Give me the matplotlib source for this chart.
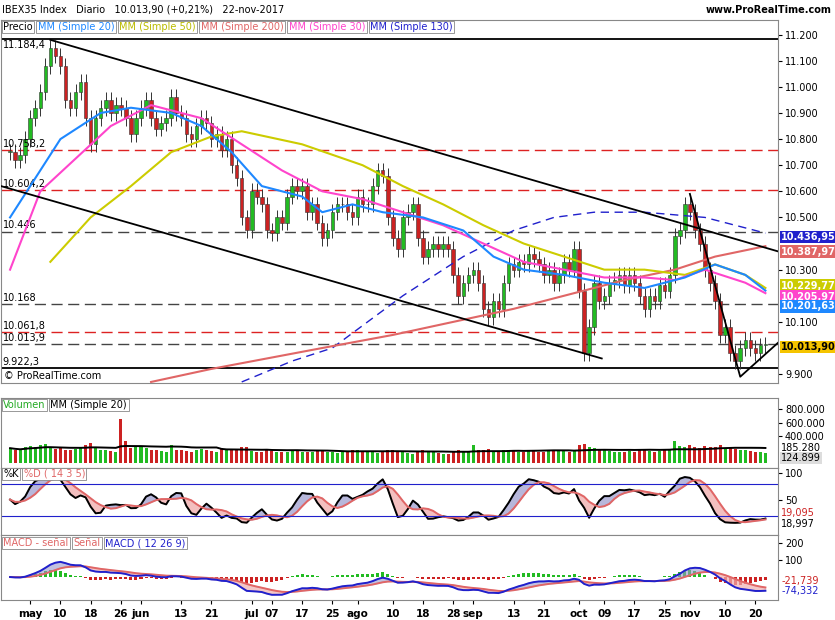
import numpy as np, pandas as pd
import matplotlib
matplotlib.use("Agg")
import matplotlib.pyplot as plt
from matplotlib.patches import Rectangle

closes = [10.75,10.72,10.74,
 10.80,10.88,10.92,10.98,11.08,11.15,11.12,11.08,10.95,10.92,10.98,11.02,10.88,10.78,10.88,10.92,10.95,10.90,10.93,10.92,10.88,10.82,10.88,
 10.92,10.95,10.88,10.84,10.86,10.88,10.96,10.90,10.88,10.82,10.80,10.85,10.88,10.86,10.80,10.82,10.76,10.80,10.70,10.65,10.50,10.45,
 10.60,10.58,10.55,10.45,10.44,10.50,10.48,10.58,10.62,10.60,10.62,10.52,10.55,10.48,10.42,10.45,10.52,10.55,10.55,10.52,10.50,
 10.58,10.55,10.55,10.62,10.68,10.66,10.50,10.42,10.38,10.50,10.52,10.55,10.42,10.35,10.38,10.40,10.38,10.40,10.38,10.28,10.20,10.25,10.28,
 10.30,10.25,10.15,10.12,10.18,10.15,10.25,10.32,10.30,10.33,10.32,10.36,10.34,10.32,10.28,10.30,10.25,10.28,10.33,10.30,10.38,
 10.22,9.98,10.08,10.25,10.18,10.20,10.25,10.26,10.28,10.24,10.28,10.25,10.20,10.15,10.20,10.18,10.24,10.22,10.28,10.43,10.45,10.55,
 10.52,10.45,10.40,10.30,10.25,10.18,10.05,10.08,9.98,9.95,10.00,10.03,10.00,9.98,10.01,10.0139]
volumes = [220,200,190,
 230,250,240,260,280,240,210,220,200,190,210,230,260,300,240,200,190,180,170,650,330,220,250,
 240,220,200,190,180,170,260,200,190,180,170,200,210,190,180,170,220,190,200,210,240,230,
 180,160,170,190,180,170,160,170,180,200,170,160,170,180,190,170,160,150,170,180,190,
 200,180,170,160,150,170,200,190,180,170,150,140,160,190,170,160,150,140,130,170,200,180,170,
 270,200,190,210,180,170,190,200,180,170,160,180,190,170,160,180,200,190,180,170,200,
 260,280,240,220,200,190,180,170,160,170,180,170,190,200,180,170,180,190,210,330,250,240,
 260,240,220,250,230,240,270,220,230,210,200,190,180,170,160,150]
dates = pd.bdate_range("2017-04-26","2017-11-22")
n = len(closes)
x = np.arange(n)
c = np.array(closes)
o = np.r_[c[0], c[:-1]]
wick = 0.03

ma20 = [(0,10.50),(5,10.65),(10,10.80),(18,10.90),(24,10.92),(32,10.90),(38,10.85),(44,10.75),(50,10.62),(58,10.58),(62,10.52),(68,10.55),(74,10.52),(82,10.50),(90,10.45),(96,10.35),(102,10.30),(110,10.28),(118,10.25),(126,10.23),(134,10.27),(140,10.32),(146,10.28),(150,10.22)]
ma30 = [(0,10.30),(6,10.60),(20,10.85),(28,10.93),(38,10.88),(46,10.78),(54,10.68),(62,10.60),(70,10.57),(78,10.52),(86,10.47),(94,10.40),(102,10.33),(110,10.30),(118,10.27),(126,10.27),(132,10.26),(138,10.30),(146,10.25),(150,10.21)]
ma50 = [(8,10.33),(16,10.50),(24,10.62),(32,10.75),(40,10.81),(46,10.83),(58,10.78),(70,10.70),(78,10.62),(86,10.55),(94,10.47),(102,10.40),(110,10.35),(118,10.30),(126,10.30),(134,10.28),(140,10.32),(146,10.28),(150,10.23)]
ma200 = [(28,9.87),(40,9.92),(62,10.00),(76,10.05),(88,10.10),(100,10.15),(110,10.20),(122,10.26),(132,10.30),(140,10.35),(150,10.39)]
ma130 = [(46,9.87),(56,9.95),(64,10.00),(78,10.20),(90,10.35),(100,10.45),(108,10.50),(116,10.52),(126,10.52),(138,10.50),(150,10.44)]
price_ticks = [9.9, 10.1, 10.3, 10.5, 10.6, 10.7, 10.8, 10.9, 11.0, 11.1, 11.2]

W, H = 835, 620
fig = plt.figure(figsize=(W/100, H/100), dpi=100)
FS = 7
def mkax(top, bot):
    ax = fig.add_axes([1/W, 1-bot/H, 777/W, (bot-top)/H])
    ax.set_xlim(-1.8, 152.5)
    ax.yaxis.tick_right()
    ax.tick_params(axis='y', labelsize=FS, length=3, pad=2)
    ax.tick_params(axis='x', labelbottom=False, length=0)
    for s in ax.spines.values(): s.set_color('#888888'); s.set_linewidth(0.8)
    return ax

ax = mkax(20, 383)
ax.set_ylim(9.866, 11.256)
ax.set_yticks(price_ticks)
ax.set_yticklabels([("%d.%03d" % (int(v), round((v-int(v))*1000))) for v in price_ticks])
up = c >= o
for i in x:
    col = '#22bb22' if up[i] else '#cc2222'
    lo, hi = min(o[i], c[i]), max(o[i], c[i])
    ax.vlines(i, lo-wick, hi+wick, color='#333333', lw=0.7, zorder=2)
    ax.add_patch(Rectangle((i-0.35, lo), 0.7, max(hi-lo, 0.003), facecolor=col, edgecolor='#333333', lw=0.4, zorder=3))
hl = [(11.1844,'11.184,4','k','-'),(10.7582,'10.758,2','#dd2222',(0,(8,4))),(10.6042,'10.604,2','#dd2222',(0,(8,4))),
      (10.446,'10.446','#444444',(0,(8,4))),(10.168,'10.168','#444444',(0,(8,4))),(10.0618,'10.061,8','#dd2222',(0,(8,4))),
      (10.0139,'10.013,9','#444444',(0,(8,4))),(9.9223,'9.922,3','k','-')]
for v, lab, colr, ls in hl:
    ax.axhline(v, color=colr, ls=ls, lw=1.3 if ls == '-' else 1.0, zorder=1)
    if lab == '11.184,4':
        ax.text(0.002, v-0.006, lab, fontsize=FS, transform=ax.get_yaxis_transform(), va='top', ha='left')
    else:
        ax.text(0.002, v+0.004, lab, fontsize=FS, transform=ax.get_yaxis_transform(), va='bottom', ha='left')
for data, colr, ls, lw in [(ma130,'#2020cc',(0,(6,4)),1.0),(ma200,'#e06666','-',1.5),(ma50,'#cccc00','-',1.5),(ma30,'#ff44cc','-',1.5),(ma20,'#1e88ff','-',1.5)]:
    xi, yv = zip(*data)
    ax.plot(xi, yv, color=colr, ls=ls, lw=lw, zorder=4)
ax.plot([-1.8, 117.5], [10.62, 9.96], color='k', lw=1.3, zorder=5)
ax.plot([8, 152.5], [11.18, 10.37], color='k', lw=1.3, zorder=5)
ax.plot([135, 145, 152.5], [10.59, 9.89, 10.02], color='k', lw=1.3, zorder=5)
for v, lab, fc, tc in [(10.426,'10.436,95','#2020cc','white'),(10.369,'10.387,97','#e06666','white'),(10.239,'10.229,77','#cccc00','white'),
                        (10.197,'10.205,97','#ff44cc','white'),(10.159,'10.201,63','#1e88ff','white'),(10.003,'10.013,90','#f5c400','black')]:
    ax.text(1.004, v, lab, transform=ax.get_yaxis_transform(), fontsize=FS, va='center', ha='left', color=tc, weight='bold',
            bbox=dict(boxstyle='square,pad=0.12', fc=fc, ec='none'), zorder=10)
ax.text(0.004, 0.01, "© ProRealTime.com", transform=ax.transAxes, fontsize=FS)

fig.text(2/W, 1-10/H, "IBEX35 Index   Diario   10.013,90 (+0,21%)   22-nov-2017", fontsize=FS, va='center')
fig.text(832/W, 1-10/H, "www.ProRealTime.com", fontsize=FS, va='center', ha='right', weight='bold')
rend = fig.canvas.get_renderer()
def labels(top, items):
    xx = 3
    for t, colr in items:
        tt = fig.text(xx/W, 1-top/H, t, fontsize=FS, color=colr, va='center',
                 bbox=dict(boxstyle='square,pad=0.15', fc='white', ec='#888888', lw=0.6))
        xx += tt.get_window_extent(rend).width + 5
labels(27, [("Precio",'k'),("MM (Simple 20)",'#1e88ff'),("MM (Simple 50)",'#bbbb00'),("MM (Simple 200)",'#e06666'),("MM (Simple 30)",'#ff44cc'),("MM (Simple 130)",'#2020cc')])

av = mkax(398, 468)
vol = np.array(volumes)*1000
av.bar(x, vol, width=0.6, color=np.where(up, '#22bb22', '#cc2222'))
av.plot(x, pd.Series(vol).rolling(20, min_periods=1).mean(), color='k', lw=1.4)
av.set_ylim(-74000, 963000)
av.set_yticks([400000,600000,800000])
av.set_yticklabels(['400.000','600.000','800.000'])
av.text(1.004, 225000, '185.280', transform=av.get_yaxis_transform(), fontsize=FS, va='center')
av.text(1.004, 70000, '124.899', transform=av.get_yaxis_transform(), fontsize=FS, va='center', bbox=dict(boxstyle='square,pad=0.1', fc='#dddddd', ec='none'))
labels(405, [("Volumen",'#22aa22'),("MM (Simple 20)",'k')])

ast = mkax(468, 535)
cs = pd.Series(c)
hh = (cs+wick).rolling(14, min_periods=1).max(); ll = (cs-wick).rolling(14, min_periods=1).min()
k = (100*(cs-ll)/(hh-ll)).rolling(3, min_periods=1).mean()
d = k.rolling(5, min_periods=1).mean()
ast.fill_between(x, k, d, where=k>=d, color='#9999cc', alpha=0.7, interpolate=True)
ast.fill_between(x, k, d, where=k<d, color='#f0b0b0', alpha=0.8, interpolate=True)
ast.plot(x, k, color='k', lw=1.4); ast.plot(x, d, color='#e06666', lw=1.4)
ast.axhline(80, color='#2020cc', lw=0.8); ast.axhline(20, color='#2020cc', lw=0.8)
ast.set_ylim(-16, 109); ast.set_yticks([50, 100]); ast.set_yticklabels(['50','100'])
ast.text(1.004, 25, '19,095', transform=ast.get_yaxis_transform(), fontsize=FS, va='center', color='#cc2222')
ast.text(1.004, 4, '18,997', transform=ast.get_yaxis_transform(), fontsize=FS, va='center')
labels(474, [("%K",'k'),("%D ( 14 3 5)",'#e06666')])

am = mkax(535, 600)
e12 = cs.ewm(span=12, adjust=False).mean(); e26 = cs.ewm(span=26, adjust=False).mean()
macd = (e12-e26)*1000; sig = macd.ewm(span=9, adjust=False).mean(); hist = macd-sig
am.bar(x, hist, width=0.6, color=np.where(hist >= 0, '#22bb22', '#cc2222'))
am.fill_between(x, macd, sig, where=macd>=sig, color='#9999cc', alpha=0.6, interpolate=True)
am.fill_between(x, macd, sig, where=macd<sig, color='#f0b0b0', alpha=0.7, interpolate=True)
am.plot(x, sig, color='#e06666', lw=1.4); am.plot(x, macd, color='#2020cc', lw=1.4)
am.set_ylim(-135, 247); am.set_yticks([100, 200]); am.set_yticklabels(['100','200'])
am.text(1.004, -21.7, '-21,739', transform=am.get_yaxis_transform(), fontsize=FS, va='center', color='#cc2222')
am.text(1.004, -80, '-74,332', transform=am.get_yaxis_transform(), fontsize=FS, va='center', color='#2020cc')
labels(543, [("MACD - señal",'#e06666'),("Señal",'#e06666'),("MACD ( 12 26 9)",'#2020cc')])

tick_dates = ["2017-05-02","2017-05-10","2017-05-18","2017-05-26","2017-06-01","2017-06-13","2017-06-21","2017-07-03","2017-07-07","2017-07-17","2017-07-25","2017-08-01","2017-08-10","2017-08-18","2017-08-28","2017-09-01","2017-09-13","2017-09-21","2017-10-02","2017-10-09","2017-10-17","2017-10-25","2017-11-01","2017-11-10","2017-11-20"]
tick_labels = ["may","10","18","26","jun","13","21","jul","07","17","25","ago","10","18","28","sep","13","21","oct","09","17","25","nov","10","20"]
tpos = [dates.get_loc(pd.Timestamp(t)) for t in tick_dates]
am.set_xticks(tpos); am.set_xticklabels(tick_labels)
am.tick_params(axis='x', labelbottom=True, labelsize=7.5, length=3)
for t in am.get_xticklabels(): t.set_weight('bold')
fig.savefig("out.png", dpi=100)
